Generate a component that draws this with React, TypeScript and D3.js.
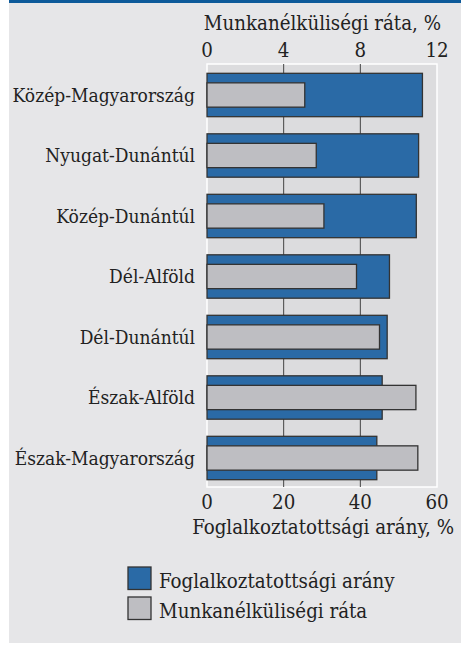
import React from 'react';
import * as d3 from 'd3';

const regions = [
  'Közép-Magyarország',
  'Nyugat-Dunántúl',
  'Közép-Dunántúl',
  'Dél-Alföld',
  'Dél-Dunántúl',
  'Észak-Alföld',
  'Észak-Magyarország',
];
// Foglalkoztatottsági arány, % (bottom axis)
const employment = [56.2, 55.2, 54.6, 47.6, 47.0, 45.7, 44.3];
// Munkanélküliségi ráta, % (top axis)
const unemployment = [5.1, 5.7, 6.1, 7.8, 9.0, 10.9, 11.0];
const bottomTicks = [0, 20, 40, 60];
const topTicks = [0, 4, 8, 12];

const W = 461;
const H = 653;
const font = '"DejaVu Serif Condensed", "DejaVu Serif", serif';
const FS = 19; // category labels
const FS2 = 20.3; // titles, ticks, legend
const BLUE = '#2a6aa6';
const GREY = '#bebec2';
const STROKE = '#333';
const TEXT = '#222';

const App = () => {
  const plot = { left: 207, right: 437, top: 64, bottom: 487 };

  const xEmp = d3.scaleLinear().domain([0, 60]).range([plot.left, plot.right]);
  const xUnemp = d3.scaleLinear().domain([0, 12]).range([plot.left, plot.right]);
  const y = d3
    .scaleBand()
    .domain(regions)
    .range([64.75, 488.25])
    .paddingInner(0.283)
    .paddingOuter(0.1415);

  const blueH = y.bandwidth();
  const greyH = 24.3;

  return (
    <div style={{ position: 'absolute', left: 0, top: 0 }}>
      <svg width={W} height={H} style={{ display: 'block' }} fontFamily={font} fontStretch="condensed">
        <rect x={0} y={0} width={W} height={H} fill="#fff" />
        <rect x={9} y={0} width={W - 9} height={643} fill="#e6e6e8" />
        <rect x={9} y={0} width={W - 9} height={3} fill="#0d5a9a" />

        {/* plot area */}
        <rect
          x={plot.left}
          y={plot.top}
          width={plot.right - plot.left}
          height={plot.bottom - plot.top}
          fill="#dcdcde"
          stroke="#fff"
          strokeWidth={1.5}
        />
        {[20, 40].map(t => (
          <line
            key={t}
            x1={xEmp(t)}
            x2={xEmp(t)}
            y1={plot.top}
            y2={plot.bottom}
            stroke="#444"
            strokeWidth={1}
          />
        ))}

        {regions.map((r, i) => {
          const cy = (y(r) as number) + blueH / 2;
          return (
            <g key={r}>
              <rect
                x={xEmp(0)}
                y={cy - blueH / 2}
                width={xEmp(employment[i]) - xEmp(0)}
                height={blueH}
                fill={BLUE}
                stroke={STROKE}
                strokeWidth={1.3}
              />
              <rect
                x={xUnemp(0)}
                y={cy - greyH / 2}
                width={xUnemp(unemployment[i]) - xUnemp(0)}
                height={greyH}
                fill={GREY}
                stroke={STROKE}
                strokeWidth={1.3}
              />
              <text x={195} y={cy + 6.5} textAnchor="end" fontSize={FS} fill={TEXT}>
                {r}
              </text>
            </g>
          );
        })}

        {/* top axis */}
        <text x={441} y={30} textAnchor="end" fontSize={FS2} fill={TEXT}>
          Munkanélküliségi ráta, %
        </text>
        {topTicks.map(t => (
          <text key={t} x={xUnemp(t)} y={57} textAnchor="middle" fontSize={FS2} fill={TEXT}>
            {t}
          </text>
        ))}

        {/* bottom axis */}
        {bottomTicks.map(t => (
          <text key={t} x={xEmp(t)} y={509} textAnchor="middle" fontSize={FS2} fill={TEXT}>
            {t}
          </text>
        ))}
        <text x={454} y={534} textAnchor="end" fontSize={FS2} fill={TEXT}>
          Foglalkoztatottsági arány, %
        </text>

        {/* legend */}
        {[
          { label: 'Foglalkoztatottsági arány', color: BLUE },
          { label: 'Munkanélküliségi ráta', color: GREY },
        ].map((d, i) => (
          <g key={d.label} transform={`translate(128, ${567 + i * 30})`}>
            <rect x={0} y={0} width={23} height={22.5} fill={d.color} stroke={STROKE} strokeWidth={1.3} />
            <text x={31} y={20.5} fontSize={FS2} fill={TEXT}>
              {d.label}
            </text>
          </g>
        ))}
      </svg>
    </div>
  );
};

export default App;
